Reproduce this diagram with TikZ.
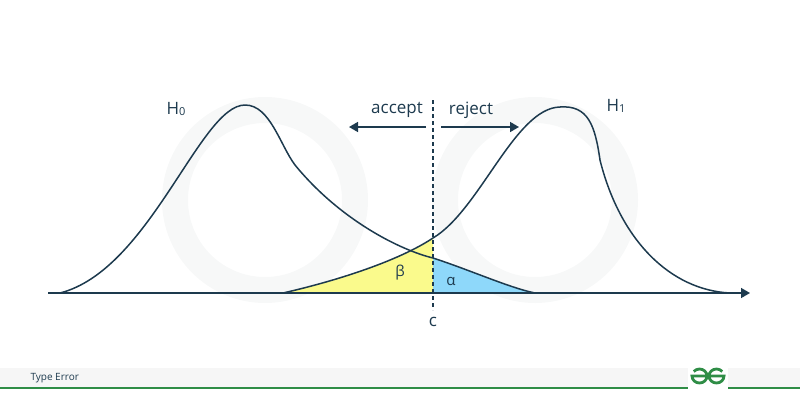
\documentclass[tikz,border=0pt]{standalone}
\usepackage{fontspec}
\setmainfont{Open Sans}
\usetikzlibrary{arrows.meta}
\definecolor{ink}{HTML}{1D3A4E}
\definecolor{gfg}{HTML}{2F8D46}
\definecolor{wm}{HTML}{F7F8F8}
\definecolor{yel}{HTML}{FAFA8C}
\definecolor{blu}{HTML}{8ED8FA}
\tikzset{curve/.style={ink,line width=1.5pt},
 lab/.style={text=ink,font=\fontsize{17}{19}\selectfont},
 arr/.style={ink,line width=1.6pt,-{Triangle[length=9pt,width=10pt]}}}
\newcommand{\lowsub}[1]{\raisebox{-0.5pt}{\fontsize{11}{12}\selectfont #1}}
\begin{document}
\begin{tikzpicture}[x=1pt,y=-1pt]
\useasboundingbox (0,0) rectangle (800,400);
% watermark
\draw[wm,line width=26pt] (265,200) circle (90);
\draw[wm,line width=26pt] (535,200) circle (90);
% fills
\fill[yel] (283,293) .. controls (340,280) and (400,260) .. (433,238) -- (433,293) -- cycle;
\fill[blu] (433,258) .. controls (470,270) and (510,288) .. (535,293) -- (433,293) -- cycle;
% curves
\draw[curve] (60,293) .. controls (150,270) and (200,105) .. (245,105) .. controls (270,105) and (280,145) .. (295,165) .. controls (340,220) and (400,250) .. (433,258) .. controls (470,270) and (510,288) .. (535,293);
\draw[curve] (283,293) .. controls (340,280) and (400,260) .. (433,238) .. controls (480,210) and (515,108) .. (560,107) .. controls (588,105) and (595,125) .. (600,160) .. controls (620,240) and (670,290) .. (730,293);
% axis
\coordinate (a0) at (48,293); \coordinate (a1) at (750,293);
\draw[arr,line width=1.4pt] (a0) -- (a1);
\coordinate (d0) at (433,100); \coordinate (d1) at (433,310);
\draw[ink,line width=1.4pt,dash pattern=on 4pt off 3pt] (d0) -- (d1);
\node[lab] (c) at (433,322) {c};
\node[lab] (h0) at (176,109) {H\lowsub{0}};
\node[lab] (h1) at (616,106) {H\lowsub{1}};
\node[lab] (acc) at (397,110) {accept};
\node[lab] (rej) at (471,110) {reject};
\coordinate (ea) at (349,127); \coordinate (sa) at (426,127);
\coordinate (er) at (519,127); \coordinate (sr) at (441,127);
\draw[arr] (sa) -- (ea);
\draw[arr] (sr) -- (er);
\node[lab,font=\fontsize{15}{17}\selectfont] (b) at (400,273) {β};
\node[lab,font=\fontsize{15}{17}\selectfont] (al) at (451,281) {α};
% footer
\fill[gray!7] (0,368) rectangle (800,388);
\draw[gfg,line width=2.5pt] (0,388) -- (688,388);
\draw[gfg,line width=2.5pt] (728,388) -- (800,388);
\fill[white] (688,360) rectangle (728,392);
\node[text=ink,font=\fontsize{10}{12}\selectfont,anchor=west] (te) at (27,378) {Type Error};
\draw[gfg,line width=2.8pt] (707,376) -- (692,376) arc (180:-140:7.5 and 7);
\draw[gfg,line width=2.8pt] (709,376) -- (724,376) arc (0:320:7.5 and 7);
\end{tikzpicture}
\end{document}
